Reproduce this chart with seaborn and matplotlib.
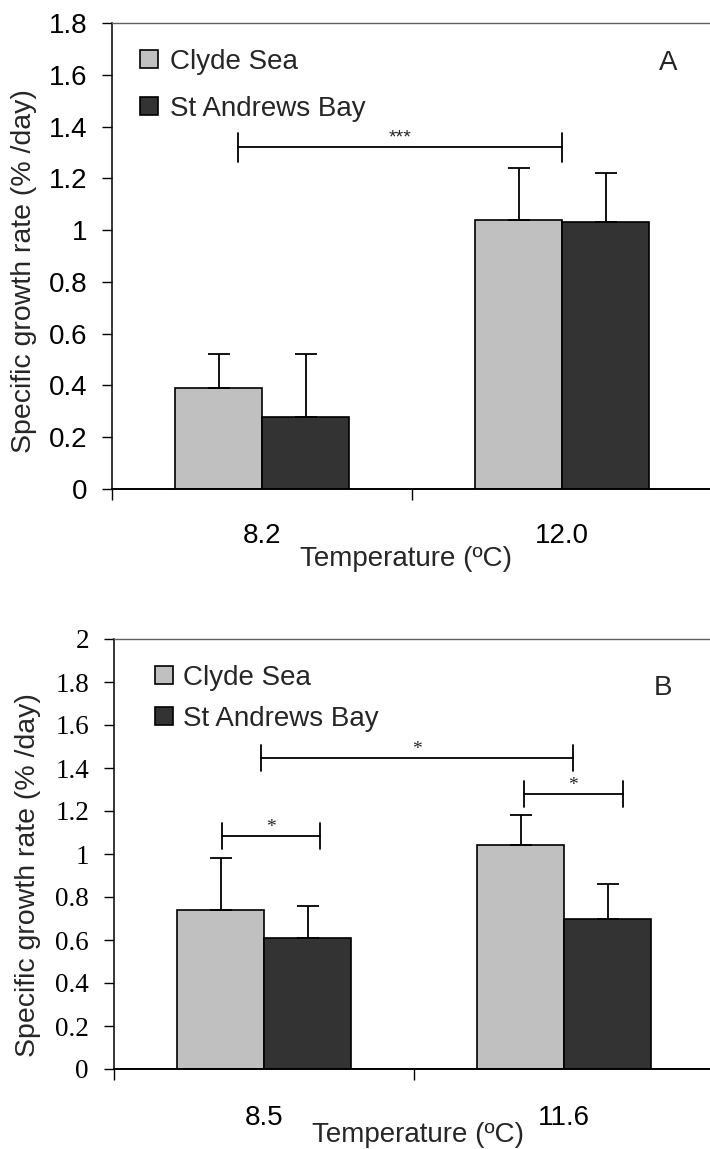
import matplotlib
matplotlib.use("Agg")
import matplotlib.pyplot as plt
from matplotlib.patches import Patch
import seaborn as sns
import pandas as pd

# ---- data -------------------------------------------------------------
sites = ["Clyde Sea", "St Andrews Bay"]
site_colors = ["#C0C0C0", "#333333"]

temps_a = ["8.2", "12.0"]
clyde_a = [0.39, 1.04]
clyde_a_se = [0.13, 0.20]
standrews_a = [0.28, 1.03]
standrews_a_se = [0.24, 0.19]

temps_b = ["8.5", "11.6"]
clyde_b = [0.74, 1.04]
clyde_b_se = [0.24, 0.14]
standrews_b = [0.61, 0.70]
standrews_b_se = [0.15, 0.16]

yticks_a = [0, 0.2, 0.4, 0.6, 0.8, 1.0, 1.2, 1.4, 1.6, 1.8]
yticks_b = [0, 0.2, 0.4, 0.6, 0.8, 1.0, 1.2, 1.4, 1.6, 1.8, 2.0]

# significance brackets: (x_start, x_end, y, label)
brackets_a = [(-0.08, 1.00, 1.32, "***")]
brackets_b = [(-0.01, 1.03, 1.445, "*"),
              (-0.14, 0.185, 1.084, "*"),
              (0.865, 1.195, 1.279, "*")]

# ---- style ------------------------------------------------------------
sns.set_theme(style="white")
plt.rcParams["font.family"] = ["Liberation Sans", "DejaVu Sans"]
plt.rcParams["axes.edgecolor"] = "black"

fig = plt.figure(figsize=(7.10, 11.49), dpi=100)
W, H = 710, 1149


def px_axes(left, top, right, bottom):
    return fig.add_axes([left / W, 1 - bottom / H, (right - left) / W, (bottom - top) / H])


def fmt(v):
    return f"{v:g}"


def draw_panel(ax, temps, clyde, clyde_se, sta, sta_se, yticks, ymax,
               tick_family, tick_size, brackets, star_family, star_size,
               letter, letter_xy, leg_xy, leg_spacing, leg_pad,
               xlab_xy, ylab_xy, xpad):
    df = pd.DataFrame({
        "temp": temps * 2,
        "rate": clyde + sta,
        "site": [sites[0]] * len(temps) + [sites[1]] * len(temps),
    })
    sns.barplot(data=df, x="temp", y="rate", hue="site", hue_order=sites,
                order=temps, palette=site_colors, width=0.58, gap=0,
                edgecolor="black", linewidth=1.2, errorbar=None,
                legend=False, ax=ax, saturation=1)

    # upward-only error bars
    for cont, se in zip(ax.containers, [clyde_se, sta_se]):
        xs = [b.get_x() + b.get_width() / 2 for b in cont]
        ys = [b.get_height() for b in cont]
        ax.errorbar(xs, ys, yerr=[[0] * len(se), se], fmt="none",
                    ecolor="black", elinewidth=1.3, capsize=8, capthick=1.3,
                    zorder=3)

    ax.set_xlim(-0.5, 1.5)
    ax.set_ylim(0, ymax)

    ax.set_yticks(yticks)
    ax.set_yticklabels([fmt(v) for v in yticks], fontfamily=tick_family,
                       fontsize=tick_size)
    ax.tick_params(axis="y", left=True, direction="out", length=7,
                   width=1, pad=11, colors="black")

    ax.set_xticks(range(len(temps)))
    ax.set_xticklabels(temps, fontsize=20)
    ax.set_xticks([-0.5, 0.5, 1.5], minor=True)
    ax.tick_params(axis="x", which="major", bottom=True, length=0, pad=xpad,
                   colors="black")
    ax.tick_params(axis="x", which="minor", bottom=True, direction="out",
                   length=8, width=1, colors="black")

    for s in ["left", "bottom"]:
        ax.spines[s].set_visible(True)
        ax.spines[s].set_color("black")
    ax.spines["left"].set_linewidth(1.1)
    ax.spines["bottom"].set_linewidth(1.4)
    ax.spines["top"].set_color("#606060")
    ax.spines["top"].set_linewidth(1.0)
    ax.spines["right"].set_visible(False)

    ax.set_xlabel("Temperature (ºC)", fontsize=20)
    ax.xaxis.set_label_coords(*xlab_xy)
    ax.set_ylabel("Specific growth rate (% /day)", fontsize=20.5)
    ax.yaxis.label.set_verticalalignment("center")
    ax.yaxis.set_label_coords(*ylab_xy)

    # significance brackets
    tick_h = 0.055 * ymax / 1.8
    for x0, x1, y, lab in brackets:
        ax.plot([x0, x1], [y, y], color="black", lw=1.3, zorder=4)
        for xe in (x0, x1):
            ax.plot([xe, xe], [y - tick_h, y + tick_h], color="black",
                    lw=1.3, zorder=4)
        ax.text((x0 + x1) / 2, y + 0.01 * ymax, lab, ha="center",
                va="baseline", fontsize=star_size, family=star_family)

    ax.text(*letter_xy, letter, transform=ax.transAxes, fontsize=20,
            ha="center", va="center")

    handles = [Patch(facecolor=c, edgecolor="black", linewidth=1.2)
               for c in site_colors]
    ax.legend(handles, sites, loc="upper left", bbox_to_anchor=leg_xy,
              frameon=False, fontsize=20, handlelength=0.65,
              handleheight=0.65, handletextpad=leg_pad,
              labelspacing=leg_spacing, borderpad=0, borderaxespad=0)


ax_a = px_axes(112, 23, 712, 489)
draw_panel(ax_a, temps_a, clyde_a, clyde_a_se, standrews_a, standrews_a_se,
           yticks_a, 1.8, "Liberation Sans", 20, brackets_a,
           "Liberation Sans", 14, "A", (0.927, 0.914),
           (0.047, 0.945), 0.76, 0.43, (0.49, -0.122), (-0.147, 0.468), 24.5)

ax_b = px_axes(114, 639, 714, 1069)
draw_panel(ax_b, temps_b, clyde_b, clyde_b_se, standrews_b, standrews_b_se,
           yticks_b, 2.0, "Liberation Serif", 19.5, brackets_b,
           "Liberation Serif", 14, "B", (0.915, 0.886),
           (0.068, 0.940), 0.54, 0.36, (0.507, -0.124), (-0.143, 0.452), 26)

fig.savefig("out.png", dpi=100)
